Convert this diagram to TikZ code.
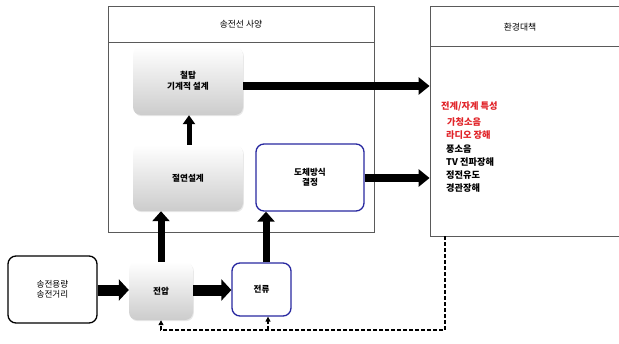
\documentclass[tikz,border=0pt]{standalone}
\usepackage{fontspec}
\setmainfont{Noto Sans CJK KR}
\usetikzlibrary{arrows.meta,shadows,calc}
\definecolor{boxblue}{RGB}{40,40,160}
\definecolor{txtred}{RGB}{225,35,40}
\definecolor{frame}{RGB}{90,90,90}
\tikzset{
  panel/.style={draw=frame, line width=0.8pt, rectangle},
  graybox/.style={rectangle, rounded corners=8pt, top color=white, bottom color=black!20,
    drop shadow={opacity=0.18, shadow xshift=0.8pt, shadow yshift=-1.2pt},
    font=\fontsize{8.6}{10.5}\selectfont\bfseries, align=center},
  bluebox/.style={rectangle, rounded corners=8pt, draw=boxblue, line width=1.3pt, fill=white,
    font=\fontsize{8.6}{10.5}\selectfont\bfseries, align=center},
  blackbox/.style={rectangle, rounded corners=8pt, draw=black, line width=1.3pt, fill=white,
    font=\fontsize{8.6}{10.5}\selectfont, align=center},
  bigarrow/.style={line width=8pt, -{Triangle[length=11pt,width=17pt]}},
  midarrow/.style={line width=7pt, -{Triangle[length=10pt,width=17pt]}},
  lowarrow/.style={line width=11pt, -{Triangle[length=10pt,width=21pt]}},
  smallarrow/.style={line width=5pt, -{Triangle[length=9pt,width=12pt]}},
  dasharrow/.style={line width=1.2pt, dash pattern=on 4pt off 2pt, -{Triangle[length=5pt,width=5pt]}},
  hdr/.style={font=\fontsize{8.8}{10}\selectfont},
  lst/.style={font=\fontsize{9.2}{10}\selectfont\bfseries, anchor=west, inner sep=0pt},
}
\begin{document}
\begin{tikzpicture}[x=1pt,y=-1pt]
\useasboundingbox[fill=white] (0,0) rectangle (619,343);
% panels
\node[panel, minimum width=266pt, minimum height=226pt] (bigL) at (241,119) {};
\draw[frame, line width=0.8pt] (108,42) -- (374,42);
\node[hdr] (hL) at (241,24) {송전선 사양};
\node[panel, minimum width=200pt, minimum height=230pt] (bigR) at (530,121) {};
\draw[frame, line width=0.8pt] (430,46) -- (630,46);
\node[hdr] (hR) at (520,27) {환경대책};
% boxes
\node[graybox, minimum width=110pt, minimum height=68pt] (tower) at (188,81) {철탑\\기계적 설계};
\node[graybox, minimum width=110pt, minimum height=66pt] (insul) at (188,178) {절연설계};
\node[bluebox, minimum width=108pt, minimum height=67pt] (cond) at (310,177.5) {도체방식\\결정};
\node[blackbox, minimum width=89pt, minimum height=67pt] (src) at (52.5,289.5) {송전용량\\송전거리};
\node[graybox, minimum width=64pt, minimum height=58pt] (volt) at (161,291) {전압};
\node[bluebox, minimum width=59pt, minimum height=53pt] (curr) at (261.5,289.5) {전류};
% list
\node[lst, text=txtred] (l0) at (441,106) {전계/자계 특성};
\node[lst, text=txtred] (l1) at (447,122) {가청소음};
\node[lst, text=txtred] (l2) at (446,135) {라디오 장해};
\node[lst] (l3) at (446,149) {풍소음};
\node[lst] (l4) at (446,162) {TV 전파장해};
\node[lst] (l5) at (446,175) {정전유도};
\node[lst] (l6) at (446,188) {경관장해};
% arrows
\draw[bigarrow] (tower.east |- 0,86) -- (bigR.west |- 0,86);
\draw[bigarrow] (cond.east |- 0,178) -- (bigR.west |- 0,178);
\draw[smallarrow] (insul.north -| 189,0) -- (tower.south -| 189,0);
\draw[midarrow] (volt.north) -- (insul.south -| volt.north);
\draw[midarrow] (curr.north -| 266,0) -- (cond.south -| 266,0);
\draw[lowarrow] (src.east |- 0,290) -- (volt.west |- 0,290);
\draw[lowarrow] (volt.east |- 0,290) -- (curr.west |- 0,290);
% dashed feedback
\coordinate (dd) at (445,236);
\coordinate (dv) at (161,330);
\coordinate (dc) at (268,330);
\draw[dasharrow] (dd) |- (dv) -- (volt.south -| dv);
\draw[dasharrow] (dc) -- (curr.south -| dc);
\end{tikzpicture}
\end{document}
